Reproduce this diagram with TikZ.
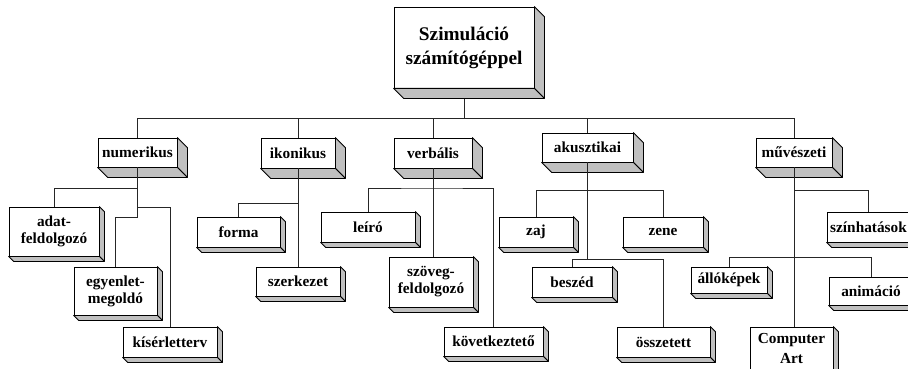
\documentclass[tikz,border=0pt]{standalone}
\usepackage{fontspec}
\setmainfont{Liberation Serif}
\usetikzlibrary{calc}
\definecolor{depthgray}{RGB}{192,192,192}
\tikzset{
  box/.style={draw=black, line width=0.8pt, fill=white, inner sep=0pt, align=center,
              font=\fontsize{15.3}{17}\selectfont\bfseries},
  titlebox/.style={box, font=\fontsize{19.3}{24}\selectfont\bfseries},
  conn/.style={draw=black!85, line width=0.8pt},
  face/.style={fill=depthgray, draw=black, line width=0.8pt, line join=round},
}
\newcommand\mkbox[7][box]{%
  \node[#1, minimum width={(#5-#3)*1pt}, minimum height={(#6-#4)*1pt}] (#2) at ({(#3+#5)/2},{(#4+#6)/2}) {#7};}
\newcommand\mkdepth[2]{%
  \filldraw[face] (#1.north east) -- ++(#2,#2) -- ($(#1.south east)+(#2,#2)$) -- (#1.south east) -- cycle;
  \filldraw[face] (#1.south west) -- ++(#2,#2) -- ($(#1.south east)+(#2,#2)$) -- (#1.south east) -- cycle;}
\begin{document}
\begin{tikzpicture}[x=1pt,y=-1pt]
\useasboundingbox (0,0) rectangle (908,369);
\clip (0,0) rectangle (908,369);
% root
\mkbox[titlebox]{root}{394}{7}{534}{88}{Szimuláció\\számítógéppel}
\mkdepth{root}{10}
% level 1
\mkbox{num}{98}{138}{177}{167}{numerikus}
\mkbox{ik}{261}{138}{335}{168}{ikonikus}
\mkbox{verb}{394}{138}{472}{168}{verbális}
\mkbox{aku}{542}{133}{633}{162}{akusztikai}
\mkbox{mu}{756}{138}{832}{167}{művészeti}
\mkdepth{num}{10}\mkdepth{ik}{10}\mkdepth{verb}{10}\mkdepth{aku}{10}\mkdepth{mu}{10}
% leaves
\mkbox{adat}{9}{207}{99}{256}{adat-\\feldolgozó}
\mkbox{egy}{74}{267}{157}{315}{egyenlet-\\megoldó}
\mkbox{kis}{123}{327}{217}{357}{kísérletterv}
\mkbox{forma}{197}{217}{280}{247}{forma}
\mkbox{szerk}{256}{267}{340}{296}{szerkezet}
\mkbox{leiro}{321}{212}{415}{242}{leíró}
\mkbox{szoveg}{389}{257}{473}{307}{szöveg-\\feldolgozó}
\mkbox{kov}{444}{327}{543}{356}{következtető}
\mkbox{zaj}{499}{217}{573}{247}{zaj}
\mkbox{zene}{623}{217}{703}{247}{zene}
\mkbox{besz}{532}{267}{612}{297}{beszéd}
\mkbox{ossz}{617}{327}{710}{357}{összetett}
\mkbox{szin}{827}{212}{910}{242}{színhatások}
\mkbox{allo}{691}{267}{767}{293}{állóképek}
\mkbox{anim}{829}{277}{913}{305}{animáció}
\mkbox[box,font=\fontsize{15.3}{20}\selectfont\bfseries]{comp}{750}{327}{833}{370}{Computer\\Art}
\foreach \n in {adat,egy,kis,forma,szerk,leiro,szoveg,kov,zaj,zene,besz,ossz,szin,allo,anim,comp}{\mkdepth{\n}{5}}
% connectors
\coordinate (busy) at (0,118);
\draw[conn] ([yshift=-11pt]root.south) -- (root.south |- busy);
\draw[conn] (num.north) -- (num.north |- busy) -- (mu.north |- busy) -- (mu.north);
\draw[conn] (ik.north) -- (ik.north |- busy);
\draw[conn] (verb.north) -- (verb.north |- busy);
\draw[conn] (aku.north) -- (aku.north |- busy);
% numerikus
\draw[conn] (num.south) -- (num.south |- 0,217) -| (egy.north);
\draw[conn] (num.south |- 0,188) -| (adat.north);
\draw[conn] (num.south |- 0,207) -| (kis.north);
% ikonikus
\draw[conn] (ik.south) -- (ik.south |- szerk.north);
\draw[conn] (ik.south |- 0,203) -| (forma.north);
% verbalis
\draw[conn] (verb.south) -- (verb.south |- szoveg.north);
\draw[conn] (leiro.north) |- (verb.south |- 0,188) -| (kov.north);
% akusztikai
\draw[conn] (aku.south) -- (aku.south |- 0,259);
\draw[conn] (zaj.north) |- (zene.north |- 0,190) -- (zene.north);
\draw[conn] (besz.north) |- (ossz.north |- 0,259) -- (ossz.north);
% muveszeti
\draw[conn] (mu.south) -- (mu.south |- comp.north);
\draw[conn] (mu.south |- 0,190) -| (szin.north);
\draw[conn] (allo.north) |- (anim.north |- 0,257) -- (anim.north);
\end{tikzpicture}
\end{document}
